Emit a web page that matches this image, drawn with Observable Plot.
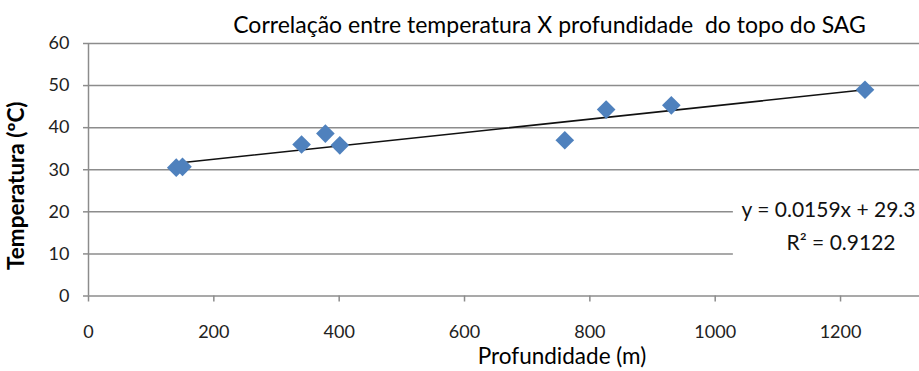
<!DOCTYPE html>
<html><head><meta charset="utf-8">
<script src="https://cdn.jsdelivr.net/npm/d3@7"></script>
<script src="https://cdn.jsdelivr.net/npm/@observablehq/plot@0.6"></script>
<style>body{margin:0;background:#fff} svg{display:block} text{white-space:pre}</style>
</head><body><div id="chart"></div>
<script>
const depth = [140, 150, 340, 378, 401, 760, 826, 930, 1239];
const temperature = [30.5, 30.7, 36.0, 38.6, 35.8, 37.0, 44.3, 45.3, 49.0];
const xTicks = [0, 200, 400, 600, 800, 1000, 1200];
const yTicks = [0, 10, 20, 30, 40, 50, 60];
const slope = 0.0159, intercept = 29.3;
const equationLines = ["y = 0.0159x + 29.3", "R² = 0.9122"];
const titleText = "Correlação entre temperatura X profundidade  do topo do SAG";
const xLabel = "Profundidade (m)";
const yLabel = "Temperatura (ºC)";

const points = depth.map((d, i) => ({depth: d, temp: temperature[i]}));
const xmin = d3.min(depth), xmax = d3.max(depth);
const trend = [xmin, xmax].map(x => ({depth: x, temp: slope * x + intercept}));
const labelBox = [{x1: 1029, x2: 1326, y1: 8.9, y2: 23.2}];

const font = "Lato, 'Open Sans', sans-serif";
const chart = Plot.plot({
  width: 919, height: 371,
  marginLeft: 88, marginRight: 0, marginTop: 43, marginBottom: 75.5,
  style: {fontFamily: font, background: "#fff", color: "#111"},
  x: {domain: [0, 1326], label: null},
  y: {domain: [0, 60], label: null},
  marks: [
    Plot.ruleY(yTicks.filter(t => t > 0), {stroke: "#8c8c8c", strokeWidth: 1.5}),
    Plot.rect(labelBox, {x1: "x1", x2: "x2", y1: "y1", y2: "y2", fill: "#fff"}),
    Plot.ruleY([0], {stroke: "#8c8c8c", strokeWidth: 1.5}),
    Plot.ruleX([0], {stroke: "#8c8c8c", strokeWidth: 1.5}),
    Plot.axisX({ticks: xTicks, tickFormat: d => String(d), tickSize: 6, tickPadding: 23, fontSize: 18, stroke: "#8c8c8c", strokeWidth: 1.5, label: null, fill: "#222"}),
    Plot.axisY({ticks: yTicks, tickFormat: d => String(d), tickSize: 5, tickPadding: 14, fontSize: 18, stroke: "#8c8c8c", strokeWidth: 1.5, label: null, fill: "#222"}),
    Plot.line(trend, {x: "depth", y: "temp", stroke: "#111", strokeWidth: 1.6}),
    Plot.dot(points, {x: "depth", y: "temp", symbol: "diamond2", r: 8.4, fill: "#4f81bd", stroke: "none"}),
    Plot.text([titleText], {frameAnchor: "top", dx: 45.5, dy: -18, fontSize: 23, fill: "#000", lineAnchor: "middle"}),
    Plot.text([xLabel], {frameAnchor: "bottom", dx: 58, dy: 61, fontSize: 22.5, fill: "#000", lineAnchor: "middle"}),
    Plot.text([yLabel], {frameAnchor: "left", textAnchor: "middle", rotate: -90, dx: -72, dy: 16, fontSize: 22.5, fontWeight: "bold", fill: "#000", lineAnchor: "middle"}),
    Plot.text([equationLines[0]], {frameAnchor: "right", dx: -4, dy: 41, textAnchor: "end", fontSize: 21, fill: "#111", lineAnchor: "middle"}),
    Plot.text([equationLines[1]], {frameAnchor: "right", dx: -24, dy: 74, textAnchor: "end", fontSize: 21, fill: "#111", lineAnchor: "middle"})
  ]
});
document.getElementById("chart").append(chart);
</script>
</body></html>
